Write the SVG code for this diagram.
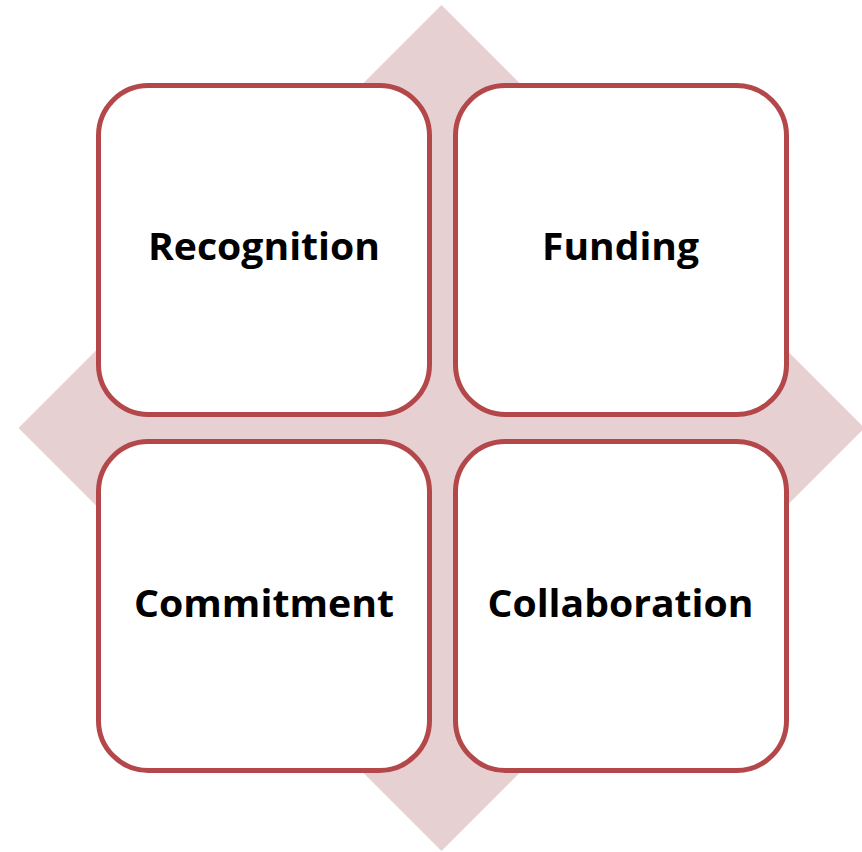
<svg xmlns="http://www.w3.org/2000/svg" width="862" height="852" viewBox="0 0 862 852">
<style>
.box{fill:#FFFFFF;stroke:#B3474A;stroke-width:5}
.lbl{font-family:"Open Sans","Liberation Sans",sans-serif;font-weight:bold;font-size:37px;fill:#000000;text-anchor:middle}
</style>
<rect width="862" height="852" fill="#FFFFFF"/>
<g id="background">
<polygon points="441.5,5 864.5,428 441.5,851 18.5,428" fill="#E7D0D2"/>
</g>
<g id="recognition">
<rect class="box" x="98.5" y="85.5" width="331" height="329" rx="50" ry="50"/>
<text class="lbl" x="264" y="260" textLength="232" lengthAdjust="spacingAndGlyphs">Recognition</text>
</g>
<g id="funding">
<rect class="box" x="455.5" y="85.5" width="331" height="329" rx="50" ry="50"/>
<text class="lbl" x="620.5" y="260" textLength="157" lengthAdjust="spacingAndGlyphs">Funding</text>
</g>
<g id="commitment">
<rect class="box" x="98.5" y="441.5" width="331" height="329" rx="50" ry="50"/>
<text class="lbl" x="264" y="617" textLength="260" lengthAdjust="spacingAndGlyphs">Commitment</text>
</g>
<g id="collaboration">
<rect class="box" x="455.5" y="441.5" width="331" height="329" rx="50" ry="50"/>
<text class="lbl" x="620.5" y="617" textLength="266" lengthAdjust="spacingAndGlyphs">Collaboration</text>
</g>
<g id="connectors"></g>
</svg>
